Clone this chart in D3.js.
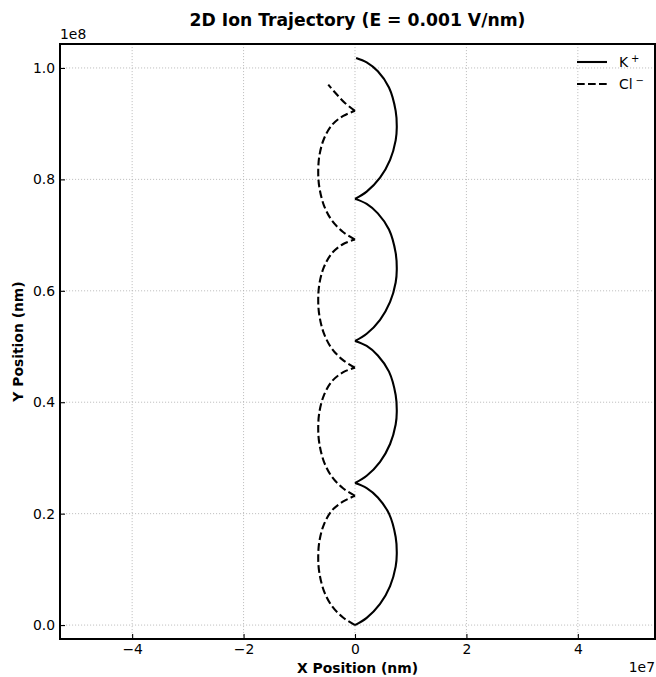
<!DOCTYPE html>
<html>
<head>
<meta charset="utf-8">
<script src="https://cdn.jsdelivr.net/npm/d3@7"></script>
<style>
  html, body { margin: 0; padding: 0; background: #fff; }
  svg { display: block; font-family: "DejaVu Sans", sans-serif; }
</style>
</head>
<body>
<svg id="chart" width="656" height="677"></svg>
<script>
// K+ trajectory, [x, y] in nm
const kPlus = [
  [0, 0], [2.1e6, 1.3e6], [4.5e6, 3.8e6], [6.3e6, 7.0e6], [7.3e6, 10.5e6], [7.5e6, 12.8e6],
  [7.3e6, 15.8e6], [6.1e6, 20.0e6], [4.1e6, 22.9e6], [2.1e6, 24.6e6], [0, 25.5e6],
  [2.1e6, 26.8e6], [4.5e6, 29.3e6], [6.3e6, 32.5e6], [7.3e6, 36.0e6], [7.5e6, 38.3e6],
  [7.3e6, 41.3e6], [6.1e6, 45.5e6], [4.1e6, 48.4e6], [2.1e6, 50.1e6], [0, 51.0e6],
  [2.1e6, 52.3e6], [4.5e6, 54.8e6], [6.3e6, 58.0e6], [7.3e6, 61.5e6], [7.5e6, 63.8e6],
  [7.3e6, 66.8e6], [6.1e6, 71.0e6], [4.1e6, 73.9e6], [2.1e6, 75.6e6], [0, 76.5e6],
  [2.1e6, 77.8e6], [4.5e6, 80.3e6], [6.3e6, 83.5e6], [7.3e6, 87.0e6], [7.5e6, 89.3e6],
  [7.3e6, 92.3e6], [6.1e6, 96.5e6], [4.1e6, 99.4e6], [2.1e6, 101.0e6], [0.2e6, 101.8e6]
];

// Cl- trajectory, [x, y] in nm
const clMinus = [
  [0, 0], [-2.2e6, 1.4e6], [-4.2e6, 3.5e6], [-5.6e6, 6.2e6], [-6.4e6, 9.4e6], [-6.6e6, 12.0e6],
  [-6.4e6, 15.0e6], [-5.6e6, 18.0e6], [-4.1e6, 20.6e6], [-2.1e6, 22.2e6], [0, 23.2e6],
  [-2.2e6, 24.6e6], [-4.2e6, 26.7e6], [-5.6e6, 29.4e6], [-6.4e6, 32.6e6], [-6.6e6, 35.2e6],
  [-6.4e6, 38.2e6], [-5.6e6, 41.2e6], [-4.1e6, 43.8e6], [-2.1e6, 45.4e6], [0, 46.2e6],
  [-2.2e6, 47.6e6], [-4.2e6, 49.7e6], [-5.6e6, 52.4e6], [-6.4e6, 55.6e6], [-6.6e6, 58.2e6],
  [-6.4e6, 61.2e6], [-5.6e6, 64.2e6], [-4.1e6, 66.8e6], [-2.1e6, 68.4e6], [0, 69.2e6],
  [-2.2e6, 70.6e6], [-4.2e6, 72.7e6], [-5.6e6, 75.4e6], [-6.4e6, 78.6e6], [-6.6e6, 81.2e6],
  [-6.4e6, 84.2e6], [-5.6e6, 87.2e6], [-4.1e6, 89.8e6], [-2.1e6, 91.4e6], [0, 92.3e6],
  [-1.9e6, 93.8e6], [-3.5e6, 95.5e6], [-4.8e6, 97.0e6]
];

const xTicks = [-4e7, -2e7, 0, 2e7, 4e7];
const yTicks = [0, 2e7, 4e7, 6e7, 8e7, 1e8];
const xOffsetLabel = "1e7";
const yOffsetLabel = "1e8";
const titleText = "2D Ion Trajectory (E = 0.001 V/nm)";
const xLabelText = "X Position (nm)";
const yLabelText = "Y Position (nm)";

const margin = { left: 60, right: 1, top: 44, bottom: 38 };
const W = 656, H = 677;
const iw = W - margin.left - margin.right;
const ih = H - margin.top - margin.bottom;

const svg = d3.select("#chart");
const g = svg.append("g").attr("transform", `translate(${margin.left},${margin.top})`);

const x = d3.scaleLinear().domain([-52.95e6, 53.85e6]).range([0, iw]);
const y = d3.scaleLinear().domain([-2.5e6, 104.3e6]).range([ih, 0]);

const minus = s => s.replace("-", "\u2212");

// dotted grid
const grid = g.append("g").attr("stroke", "#b0b0b0").attr("stroke-width", 0.8)
  .attr("stroke-dasharray", "1.1,1.9").attr("fill", "none");
grid.selectAll("line.gx").data(xTicks).join("line")
  .attr("x1", d => x(d)).attr("x2", d => x(d)).attr("y1", 0).attr("y2", ih);
grid.selectAll("line.gy").data(yTicks).join("line")
  .attr("y1", d => y(d)).attr("y2", d => y(d)).attr("x1", 0).attr("x2", iw);

// split a trajectory into arcs at the cusps (points where x returns to 0)
function arcs(points) {
  const out = [];
  let cur = [points[0]];
  for (let i = 1; i < points.length; i++) {
    cur.push(points[i]);
    if (points[i][0] === 0 && i < points.length - 1) {
      out.push(cur);
      cur = [points[i]];
    }
  }
  if (cur.length > 1) out.push(cur);
  return out;
}

const line = d3.line().x(d => x(d[0])).y(d => y(d[1])).curve(d3.curveCatmullRom.alpha(0.5));

g.append("path")
  .attr("d", arcs(kPlus).map(a => line(a)).join(""))
  .attr("fill", "none").attr("stroke", "#000").attr("stroke-width", 2.1)
  .attr("stroke-linejoin", "round").attr("stroke-linecap", "butt");

g.append("path")
  .attr("d", arcs(clMinus).map(a => line(a)).join(""))
  .attr("fill", "none").attr("stroke", "#000").attr("stroke-width", 2.1)
  .attr("stroke-dasharray", "7.7,3.3").attr("stroke-linecap", "butt");

// axes with inward ticks
const xAxis = d3.axisBottom(x).tickValues(xTicks).tickSize(-5).tickPadding(5)
  .tickFormat(d => minus(d3.format("d")(d / 1e7)));
const yAxis = d3.axisLeft(y).tickValues(yTicks).tickSize(-5).tickPadding(5)
  .tickFormat(d => d3.format(".1f")(d / 1e8));

const gx = g.append("g").attr("transform", `translate(0,${ih})`).call(xAxis);
const gy = g.append("g").call(yAxis);
[gx, gy].forEach(a => {
  a.select(".domain").remove();
  a.selectAll(".tick line").attr("stroke", "#000").attr("stroke-width", 1.1);
  a.selectAll(".tick text").attr("font-size", 13.9).attr("fill", "#000")
    .attr("font-family", "DejaVu Sans, sans-serif");
});

// frame
g.append("rect").attr("x", 0).attr("y", 0).attr("width", iw).attr("height", ih)
  .attr("fill", "none").attr("stroke", "#000").attr("stroke-width", 2);

// offset labels
svg.append("text").attr("x", margin.left).attr("y", margin.top - 5)
  .attr("font-size", 13.9).text(yOffsetLabel);
svg.append("text").attr("x", W - 1).attr("y", 672).attr("text-anchor", "end")
  .attr("font-size", 13.9).text(xOffsetLabel);

// title and axis labels
svg.append("text").attr("x", margin.left + iw / 2).attr("y", 26).attr("text-anchor", "middle")
  .attr("font-size", 17.2).attr("font-weight", "bold").text(titleText);
svg.append("text").attr("x", margin.left + iw / 2).attr("y", 673).attr("text-anchor", "middle")
  .attr("font-size", 13.9).attr("font-weight", "bold").text(xLabelText);
svg.append("text").attr("transform", `translate(23,${margin.top + ih / 2}) rotate(-90)`)
  .attr("text-anchor", "middle").attr("font-size", 13.9).attr("font-weight", "bold").text(yLabelText);

// legend
const legendItems = [
  { base: "K", sup: "+", dash: null },
  { base: "Cl", sup: "\u2212", dash: "7.7,3.3" }
];
const lg = svg.append("g").attr("transform", "translate(577,62)");
legendItems.forEach((it, i) => {
  const row = lg.append("g").attr("transform", `translate(0,${i * 22})`);
  row.append("line").attr("x1", 0).attr("x2", 30).attr("y1", 0).attr("y2", 0)
    .attr("stroke", "#000").attr("stroke-width", 2.1)
    .attr("stroke-dasharray", it.dash);
  const t = row.append("text").attr("x", 42).attr("y", 5).attr("font-size", 13.9);
  t.append("tspan").text(it.base);
  t.append("tspan").attr("font-size", 10).attr("dy", -5).attr("dx", 3).text(it.sup);
});
</script>
</body>
</html>
